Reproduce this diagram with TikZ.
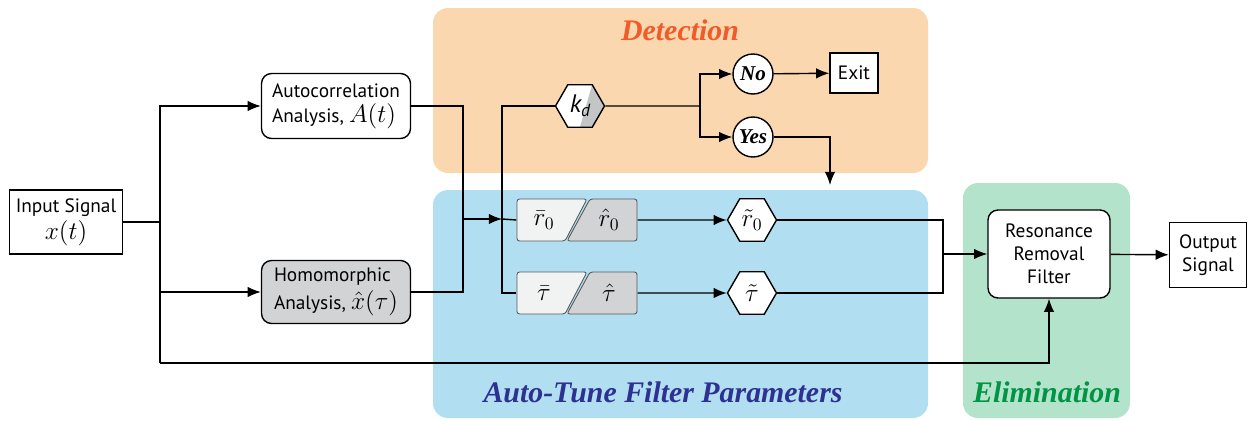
\documentclass[tikz,border=0pt]{standalone}
\usepackage{fontspec}
\setmainfont{PT Sans}
\newfontfamily\titlefont{Liberation Serif}
\usetikzlibrary{shapes.geometric,arrows.meta}

\definecolor{detectfill}{RGB}{251,215,175}
\definecolor{tunefill}{RGB}{177,223,241}
\definecolor{elimfill}{RGB}{179,228,203}
\definecolor{detecttext}{RGB}{241,90,41}
\definecolor{tunetext}{RGB}{46,49,146}
\definecolor{elimtext}{RGB}{0,148,68}
\definecolor{boxgray}{RGB}{209,211,212}
\definecolor{kdgray}{RGB}{195,197,199}
\definecolor{boxlight}{RGB}{241,242,242}

\newcommand\symsize{\fontsize{13.5}{15}\selectfont}

% two slanted halves with one name for the connectors
\newcommand\pairbox[4]{%
	\begin{scope}[shift={#2}]
		\draw[pairline,fill=boxlight] (-60,-21) -- (10,-21) -- (-12,21) -- (-60,21) -- cycle;
		\draw[pairline,fill=boxgray] (13,-21) -- (60,-21) -- (60,21) -- (-10,21) -- cycle;
		\node[font=\Large] at (-33,0) {#3};
		\node[font=\Large] at (32,0) {#4};
	\end{scope}
	\node[minimum width=2.4cm,minimum height=0.84cm,inner sep=0pt] (#1) at #2 {};
}

\begin{document}
\begin{tikzpicture}[x=0.02cm,y=-0.02cm,line width=0.8pt,
		arr/.style={-{Latex[length=7.5pt,width=6pt]}},
		panel/.style={rounded corners=0.3cm},
		title/.style={font=\titlefont\bfseries\itshape\fontsize{17}{20}\selectfont},
		plainbox/.style={draw,fill=white,align=center,inner sep=0pt,font=\fontsize{11}{13}\selectfont},
		roundbox/.style={plainbox,rounded corners=0.2cm},
		pairline/.style={draw=black!65,line width=0.5pt,rounded corners=1.5pt},
		hexa/.style={draw,fill=white,regular polygon,regular polygon sides=6,minimum size=0.98cm,inner sep=0pt},
		choice/.style={draw,fill=white,circle,minimum size=0.8cm,inner sep=0pt,font=\titlefont\bfseries\itshape\fontsize{12}{14}\selectfont}]
	\useasboundingbox (0,0) rectangle (1248,420);
	% panels
	\fill[detectfill,panel] (433,8) rectangle (928,173);
	\fill[tunefill,panel] (433,190) rectangle (928,418);
	\fill[elimfill,panel] (963,183) rectangle (1130,418);
	\node[title,text=detecttext] (dettitle) at (680,30) {Detection};
	\node[title,text=tunetext] (tunetitle) at (663,392) {Auto-Tune Filter Parameters};
	\node[title,text=elimtext] (elimtitle) at (1047,392) {Elimination};
	% blocks
	\node[plainbox,minimum width=2.26cm,minimum height=1.28cm] (input) at (66,222) {Input Signal\\[1pt] {\symsize$x(t)$}};
	\node[roundbox,align=left,minimum width=2.98cm,minimum height=1.3cm] (auto) at (336,106) {Autocorrelation\\[1pt] Analysis, {\symsize$A(t)$}};
	\node[roundbox,align=left,fill=boxgray,minimum width=2.98cm,minimum height=1.26cm] (homo) at (336,292) {Homomorphic\\[3pt] Analysis, {\symsize$\hat{x}(\tau)$}};
	\node[hexa,path picture={\fill[kdgray] ([shift={(12,-21)}]path picture bounding box.center) -- ([shift={(30,-21)}]path picture bounding box.center) -- ([shift={(30,21)}]path picture bounding box.center) -- ([shift={(0,21)}]path picture bounding box.center) -- cycle;}] (kd) at (580,106) {\Large\itshape k\normalsize\raisebox{-2pt}{d}};
	\node[choice] (no) at (753,74) {No};
	\node[choice] (yes) at (753,137) {Yes};
	\node[plainbox,minimum width=0.96cm,minimum height=0.8cm] (exit) at (854,73) {Exit};
	\pairbox{r0}{(577,220)}{$\bar{r}_0$}{$\hat{r}_0$}
	\pairbox{tau}{(577,293)}{$\bar{\tau}$}{$\hat{\tau}$}
	\node[hexa,font=\Large] (r0t) at (752,220) {$\tilde{r}_0$};
	\node[hexa,font=\Large] (taut) at (752,293) {$\tilde{\tau}$};
	\node[roundbox,minimum width=2.44cm,minimum height=1.76cm] (filter) at (1049,254) {Resonance\\ Removal\\ Filter};
	\node[plainbox,minimum width=1.54cm,minimum height=1.3cm] (output) at (1208,255) {Output\\ Signal};
	% connectors
	\coordinate (split) at (160,222);
	\coordinate (low) at (160,363);
	\coordinate (merge) at (463,219);
	\coordinate (fork) at (502,219);
	\coordinate (dec) at (700,106);
	\coordinate (yesend) at (830,185);
	\coordinate (join) at (943,254);
	\draw (input.east) -- (split);
	\draw[arr] (split) |- (auto.west);
	\draw[arr] (split) |- (homo.west);
	\draw (split) -- (low);
	\draw[arr] (low) -| (filter.south);
	\draw (auto.east) -| (merge);
	\draw (homo.east) -| (merge);
	\draw[arr] (merge) -- (fork);
	\draw (fork) -- (r0.west);
	\draw (kd.west) -| (fork) |- (tau.west);
	\draw (kd.east) -- (dec);
	\draw[arr] (dec) |- (no.west);
	\draw[arr] (dec) |- (yes.west);
	\draw[arr] (no) -- (exit);
	\draw[arr] (yes.east) -| (yesend);
	\draw[arr] (r0.east) -- (r0t.west);
	\draw[arr] (tau.east) -- (taut.west);
	\draw (r0t.east) -| (join);
	\draw (taut.east) -| (join);
	\draw[arr] (join) -- (filter.west);
	\draw[arr] (filter) -- (output);
\end{tikzpicture}
\end{document}
